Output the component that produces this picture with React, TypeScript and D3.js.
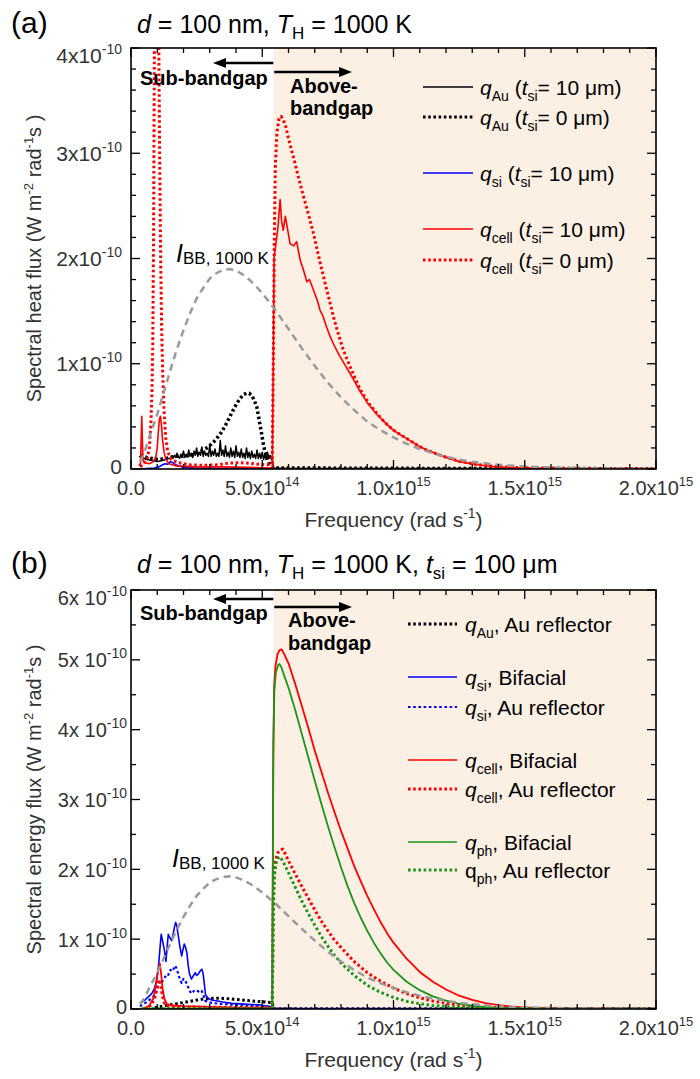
import React from 'react';
import * as d3 from 'd3';

type P = [number, number];

// ---------------- data (frequency in 1e14 rad/s, flux in 1e-10 units) ----------------
const bbCurve: P[] = [[0.35,0.07],[0.5,0.15],[0.75,0.34],[1.0,0.52],[1.25,0.73],[1.5,0.94],[1.75,1.14],[2.0,1.32],[2.25,1.48],[2.5,1.62],[2.75,1.72],[3.0,1.81],[3.25,1.86],[3.5,1.89],[3.75,1.9],[4.0,1.885],[4.25,1.85],[4.5,1.8],[4.75,1.74],[5.0,1.67],[5.25,1.59],[5.5,1.51],[5.75,1.42],[6.0,1.33],[6.5,1.15],[7.0,0.98],[7.5,0.82],[8.0,0.68],[8.5,0.56],[9.0,0.45],[9.5,0.37],[10,0.3],[10.5,0.24],[11,0.19],[11.5,0.15],[12,0.115],[12.5,0.09],[13,0.068],[14,0.04],[15,0.024],[16,0.014],[17,0.008],[18,0.005],[19,0.003],[20,0.002]];

// panel (a)
const aAuSolid: P[] = [[0.3,0.12],[0.4,0.11],[0.5,0.1],[0.6,0.09],[0.7,0.085],[0.8,0.08],[0.9,0.075],[1.0,0.07],[1.1,0.075],[1.2,0.08],[1.3,0.09],[1.4,0.1],[1.5,0.1],[1.55,0.12],[1.6,0.1],[1.65,0.13],[1.7,0.11],[1.75,0.15],[1.8,0.12],[1.85,0.1],[1.9,0.14],[1.95,0.12],[2.0,0.17],[2.05,0.11],[2.1,0.14],[2.15,0.12],[2.2,0.18],[2.25,0.12],[2.3,0.15],[2.35,0.11],[2.4,0.17],[2.45,0.13],[2.5,0.2],[2.55,0.12],[2.6,0.16],[2.65,0.13],[2.7,0.21],[2.75,0.12],[2.8,0.17],[2.85,0.13],[2.9,0.15],[2.95,0.12],[3.0,0.23],[3.05,0.12],[3.1,0.17],[3.15,0.13],[3.2,0.19],[3.25,0.12],[3.3,0.15],[3.35,0.12],[3.4,0.27],[3.45,0.13],[3.5,0.18],[3.55,0.12],[3.6,0.22],[3.65,0.12],[3.7,0.16],[3.75,0.11],[3.8,0.2],[3.85,0.12],[3.9,0.17],[3.95,0.11],[4.0,0.22],[4.05,0.12],[4.1,0.16],[4.15,0.11],[4.2,0.19],[4.25,0.11],[4.3,0.15],[4.35,0.1],[4.4,0.2],[4.45,0.11],[4.5,0.16],[4.55,0.1],[4.6,0.17],[4.65,0.11],[4.7,0.14],[4.75,0.1],[4.8,0.18],[4.85,0.1],[4.9,0.15],[4.95,0.1],[5.0,0.16],[5.05,0.09],[5.1,0.14],[5.15,0.09],[5.2,0.16],[5.25,0.1],[5.3,0.13],[5.35,0.09],[5.38,0.12],[5.42,0.01],[6,0.005],[20,0.004]];
const aAuDot: P[] = [[0.35,0.13],[0.6,0.11],[0.8,0.1],[1.04,0.09],[1.3,0.1],[1.68,0.12],[2.0,0.12],[2.31,0.13],[2.6,0.16],[2.95,0.21],[3.2,0.27],[3.45,0.35],[3.65,0.44],[3.83,0.53],[4.0,0.61],[4.15,0.67],[4.3,0.71],[4.41,0.72],[4.5,0.72],[4.6,0.7],[4.7,0.65],[4.79,0.59],[4.85,0.51],[4.91,0.43],[4.98,0.33],[5.04,0.24],[5.1,0.17],[5.17,0.12],[5.26,0.06],[5.36,0.02],[5.45,0.01],[8,0.008],[12,0.005],[20,0.003]];
const aSiSolid: P[] = [[0.3,0.0],[0.6,0.005],[0.9,0.01],[1.1,0.025],[1.2,0.04],[1.3,0.05],[1.4,0.045],[1.5,0.07],[1.6,0.06],[1.7,0.04],[1.8,0.03],[2.0,0.015],[2.5,0.008],[3.5,0.005],[5.4,0.003],[20,0.002]];
const aCellSolid: P[] = [[0.3,0.03],[0.36,0.05],[0.39,0.3],[0.41,0.5],[0.43,0.3],[0.46,0.08],[0.55,0.06],[0.7,0.05],[0.85,0.07],[0.95,0.12],[1.0,0.2],[1.04,0.35],[1.08,0.47],[1.12,0.5],[1.16,0.42],[1.2,0.28],[1.26,0.16],[1.33,0.09],[1.45,0.05],[1.7,0.03],[2.5,0.02],[3.5,0.02],[4.5,0.015],[5.38,0.01],[5.42,1.0],[5.45,2.0],[5.5,2.1],[5.6,2.3],[5.68,2.56],[5.74,2.35],[5.8,2.27],[5.88,2.4],[5.95,2.3],[6.06,2.14],[6.2,2.12],[6.31,2.16],[6.45,1.98],[6.57,1.89],[6.7,1.78],[6.8,1.8],[6.95,1.7],[7.1,1.6],[7.2,1.51],[7.3,1.46],[7.45,1.35],[7.6,1.25],[7.71,1.19],[7.85,1.12],[7.96,1.07],[8.15,0.99],[8.34,0.91],[8.5,0.84],[8.72,0.74],[9.0,0.63],[9.36,0.52],[9.68,0.44],[9.99,0.37],[10.3,0.32],[10.63,0.27],[10.95,0.22],[11.26,0.18],[11.9,0.12],[12.5,0.07],[13.2,0.04],[13.8,0.024],[14.5,0.014],[15.5,0.007],[17,0.003],[20,0.001]];
const aCellDot: P[] = [[0.35,0.02],[0.5,0.05],[0.62,0.1],[0.7,0.2],[0.76,0.45],[0.8,0.75],[0.83,1.2],[0.86,2.2],[0.88,3.4],[0.91,5.0],[0.96,6.0],[1.02,5.2],[1.06,4.0],[1.09,3.0],[1.13,2.0],[1.17,1.3],[1.21,0.9],[1.26,0.55],[1.32,0.3],[1.4,0.16],[1.55,0.09],[1.8,0.06],[2.2,0.04],[2.8,0.035],[3.3,0.04],[3.7,0.055],[4.1,0.06],[4.5,0.055],[4.9,0.045],[5.2,0.04],[5.38,0.05],[5.42,1.0],[5.46,2.2],[5.5,2.9],[5.56,3.2],[5.64,3.33],[5.72,3.35],[5.8,3.32],[5.9,3.25],[6.0,3.14],[6.18,2.97],[6.37,2.78],[6.57,2.59],[6.76,2.42],[6.95,2.24],[7.14,2.03],[7.33,1.83],[7.52,1.64],[7.71,1.45],[7.9,1.28],[8.09,1.13],[8.4,0.94],[8.72,0.76],[9.04,0.63],[9.36,0.53],[9.68,0.44],[9.99,0.37],[10.3,0.32],[10.63,0.27],[10.95,0.22],[11.26,0.18],[11.9,0.12],[12.5,0.075],[13.2,0.042],[13.8,0.026],[14.5,0.015],[15.5,0.008],[17,0.004],[20,0.002]];

// panel (b)
const bAuDot: P[] = [[0.9,0.02],[1.2,0.04],[1.5,0.06],[1.8,0.08],[2.1,0.1],[2.4,0.12],[2.7,0.14],[3.0,0.15],[3.3,0.155],[3.6,0.15],[3.9,0.14],[4.2,0.13],[4.5,0.12],[4.8,0.11],[5.1,0.1],[5.38,0.09],[5.42,0.005],[20,0.003]];
const bSiBif: P[] = [[0.34,0.08],[0.5,0.12],[0.65,0.17],[0.79,0.22],[0.9,0.3],[0.98,0.42],[1.05,0.62],[1.1,0.85],[1.15,1.07],[1.2,0.98],[1.27,0.85],[1.33,0.68],[1.38,0.9],[1.42,1.07],[1.48,1.02],[1.55,0.98],[1.61,1.08],[1.66,1.18],[1.7,1.24],[1.74,1.2],[1.8,1.05],[1.87,0.88],[1.93,0.76],[1.98,0.85],[2.03,0.93],[2.08,0.88],[2.13,0.8],[2.18,0.62],[2.23,0.5],[2.3,0.43],[2.38,0.48],[2.45,0.52],[2.5,0.48],[2.56,0.5],[2.63,0.54],[2.7,0.57],[2.75,0.5],[2.79,0.37],[2.84,0.2],[2.95,0.15],[3.07,0.13],[3.5,0.1],[3.83,0.08],[4.3,0.07],[4.85,0.06],[5.36,0.03],[5.42,0.005],[20,0.003]];
const bSiAu: P[] = [[0.34,0.04],[0.6,0.1],[0.8,0.16],[0.91,0.2],[1.0,0.3],[1.1,0.42],[1.2,0.4],[1.3,0.46],[1.36,0.5],[1.42,0.49],[1.5,0.56],[1.58,0.54],[1.68,0.62],[1.74,0.58],[1.8,0.5],[1.87,0.42],[1.93,0.37],[2.0,0.43],[2.06,0.42],[2.12,0.36],[2.18,0.31],[2.25,0.25],[2.31,0.22],[2.4,0.26],[2.5,0.27],[2.6,0.24],[2.69,0.26],[2.76,0.2],[2.82,0.12],[3.0,0.09],[3.5,0.07],[4.3,0.05],[5.36,0.03],[5.42,0.004],[20,0.003]];
const bCellBif: P[] = [[0.45,0.0],[0.7,0.05],[0.85,0.15],[0.95,0.35],[1.03,0.55],[1.1,0.65],[1.15,0.5],[1.2,0.3],[1.27,0.15],[1.37,0.07],[1.6,0.05],[2.0,0.04],[3.0,0.03],[4.0,0.02],[5.38,0.015],[5.42,3.5],[5.45,4.6],[5.5,4.9],[5.58,5.08],[5.66,5.14],[5.74,5.15],[5.85,5.07],[6.0,4.95],[6.25,4.66],[6.5,4.35],[6.75,4.03],[7.0,3.7],[7.25,3.4],[7.5,3.1],[7.75,2.82],[8.0,2.55],[8.25,2.3],[8.5,2.05],[8.75,1.83],[9.0,1.62],[9.25,1.43],[9.5,1.25],[9.75,1.09],[10.0,0.95],[10.5,0.72],[11.0,0.53],[11.5,0.39],[12.0,0.28],[12.5,0.19],[13.0,0.13],[13.5,0.085],[14.0,0.055],[14.5,0.035],[15.0,0.022],[16.0,0.01],[17.0,0.005],[20,0.002]];
const bCellAu: P[] = [[0.5,0.0],[0.75,0.05],[0.9,0.15],[1.0,0.3],[1.08,0.42],[1.13,0.35],[1.2,0.18],[1.28,0.08],[1.4,0.04],[2.0,0.03],[3.0,0.025],[4.0,0.02],[5.38,0.02],[5.42,1.5],[5.46,2.0],[5.52,2.15],[5.6,2.24],[5.7,2.28],[5.78,2.29],[5.88,2.22],[6.0,2.12],[6.25,1.94],[6.5,1.76],[6.75,1.59],[7.0,1.42],[7.25,1.26],[7.5,1.12],[7.75,0.99],[8.0,0.88],[8.5,0.68],[9.0,0.52],[9.5,0.4],[10.0,0.3],[10.5,0.22],[11.0,0.16],[11.5,0.115],[12.0,0.08],[12.5,0.055],[13.0,0.037],[14.0,0.016],[15.0,0.007],[16.0,0.003],[20,0.001]];
const bPhBif: P[] = [[0.4,0.005],[5.38,0.005],[5.42,3.8],[5.46,4.55],[5.52,4.82],[5.6,4.92],[5.65,4.94],[5.72,4.9],[5.85,4.76],[6.0,4.6],[6.25,4.29],[6.5,3.95],[6.75,3.61],[7.0,3.27],[7.25,2.94],[7.5,2.62],[7.75,2.32],[8.0,2.03],[8.25,1.76],[8.5,1.52],[8.75,1.31],[9.0,1.12],[9.25,0.95],[9.5,0.8],[9.75,0.67],[10.0,0.56],[10.5,0.39],[11.0,0.27],[11.5,0.18],[12.0,0.12],[12.5,0.075],[13.0,0.045],[13.5,0.028],[14.0,0.017],[15.0,0.007],[16.0,0.003],[20,0.001]];
const bPhAu: P[] = [[0.4,0.005],[5.38,0.005],[5.42,1.4],[5.46,1.9],[5.52,2.08],[5.6,2.16],[5.68,2.18],[5.78,2.12],[5.9,2.03],[6.0,1.95],[6.25,1.75],[6.5,1.55],[6.75,1.37],[7.0,1.2],[7.25,1.04],[7.5,0.9],[7.75,0.77],[8.0,0.66],[8.5,0.48],[9.0,0.34],[9.5,0.24],[10.0,0.165],[10.5,0.11],[11.0,0.075],[11.5,0.05],[12.0,0.033],[13.0,0.014],[14.0,0.006],[15.0,0.0025],[20,0.001]];

// ticks
const xTickValues = [0, 5, 10, 15, 20];
const xTickMantissa = ['0.0', '5.0x10', '1.0x10', '1.5x10', '2.0x10'];
const xTickExponent = ['', '14', '15', '15', '15'];
const yTicksA = [0, 1, 2, 3, 4];
const yTicksB = [0, 1, 2, 3, 4, 5, 6];
const bandgapFreq = 5.42;

// ---------------- rendering ----------------
const FONT = "'Liberation Sans', Arial, Helvetica, sans-serif";
const X0 = 131, X1 = 656;
const BLACK = '#000', BLUE = '#0000ff', RED = '#ff0000', GREEN = '#1a961a', GRAY = '#9a9a9a';

type Part = { t: string; it?: boolean; sub?: boolean; sup?: boolean };
type Sty = { color: string; width: number; dash?: string };

function Rich(props: { parts: Part[]; x?: number; y?: number; size: number; small: number; subShift?: number; supShift?: number; anchor?: string; transform?: string; weight?: string; fill?: string }) {
  const { parts, x, y, size, small, subShift = 6, supShift = 8, anchor = 'start', transform, weight, fill = '#000' } = props;
  let cur = 0;
  return (
    <text x={x} y={y} fontSize={size} textAnchor={anchor} transform={transform} fontWeight={weight} fill={fill} fontFamily={FONT} style={{ whiteSpace: 'pre' }}>
      {parts.map((p, i) => {
        const target = p.sub ? subShift : p.sup ? -supShift : 0;
        const dy = target - cur;
        cur = target;
        return (
          <tspan key={i} dy={dy} fontSize={p.sub || p.sup ? small : undefined} fontStyle={p.it ? 'italic' : undefined}>{p.t}</tspan>
        );
      })}
    </text>
  );
}

const solid = (c: string, w = 1.6): Sty => ({ color: c, width: w });
const dotted = (c: string, w = 3): Sty => ({ color: c, width: w, dash: '2.6 2.6' });
const grayDash: Sty = { color: GRAY, width: 2.5, dash: '7 5' };

type Cfg = {
  id: string; top: number; bottom: number; yMax: number; yTicks: number[]; yMinorStep: number;
  yMant: (v: number) => string; yFont: number; yLabelEnd: number;
  series: { data: P[]; sty: Sty }[];
  legend: { y: number; sty: Sty; parts: Part[] }[];
  legX1: number; legX2: number; legTx: number;
  title: Part[]; titleY: number; tag: string;
  yTitle: Part[];
  subTxtY: number; aboveY1: number; aboveY2: number; aboveX: number;
  arrowLY: number; arrowRY: number;
  bbLabelX: number; bbLabelY: number;
};

function Arrow({ x1, x2, y }: { x1: number; x2: number; y: number }) {
  const dir = x2 > x1 ? 1 : -1;
  const hl = 13, hw = 5;
  return (
    <g>
      <line x1={x1} y1={y} x2={x2 - dir * hl} y2={y} stroke="#000" strokeWidth={2.4} />
      <path d={`M${x2},${y} L${x2 - dir * hl},${y - hw} L${x2 - dir * hl},${y + hw} Z`} fill="#000" />
    </g>
  );
}

function Panel({ cfg }: { cfg: Cfg }) {
  const x = d3.scaleLinear().domain([0, 20]).range([X0, X1]);
  const y = d3.scaleLinear().domain([0, cfg.yMax]).range([cfg.bottom, cfg.top]);
  const line = d3.line<P>().x((d) => x(d[0])).y((d) => y(d[1]));
  const xMinor = d3.range(0, 21, 1).filter((v) => v % 5 !== 0);
  const yMinor = d3.range(0, cfg.yMax + 1e-9, cfg.yMinorStep).filter((v) => Math.abs(v - Math.round(v)) > 1e-6);
  const T = cfg.top, B = cfg.bottom;
  const maj = 9, mnr = 5;
  const gx = x(bandgapFreq);
  return (
    <g>
      <defs>
        <clipPath id={`clip-${cfg.id}`}>
          <rect x={X0} y={T} width={X1 - X0} height={B - T} />
        </clipPath>
      </defs>
      <rect x={gx} y={T} width={X1 - gx} height={B - T} fill="#fcefe3" />
      <g clipPath={`url(#clip-${cfg.id})`}>
        {cfg.series.map((s, i) => (
          <path key={i} d={line(s.data) || ''} fill="none" stroke={s.sty.color} strokeWidth={s.sty.width} strokeDasharray={s.sty.dash} strokeLinejoin="round" />
        ))}
        <path d={line(bbCurve) || ''} fill="none" stroke={grayDash.color} strokeWidth={grayDash.width} strokeDasharray={grayDash.dash} />
      </g>
      {/* ticks */}
      <g stroke="#000" strokeWidth={1.3}>
        {xTickValues.map((v) => (
          <g key={`xm${v}`}>
            <line x1={x(v)} x2={x(v)} y1={B} y2={B - maj} />
            <line x1={x(v)} x2={x(v)} y1={T} y2={T + maj} />
          </g>
        ))}
        {xMinor.map((v) => (
          <g key={`xn${v}`}>
            <line x1={x(v)} x2={x(v)} y1={B} y2={B - mnr} />
            <line x1={x(v)} x2={x(v)} y1={T} y2={T + mnr} />
          </g>
        ))}
        {cfg.yTicks.map((v) => (
          <g key={`ym${v}`}>
            <line x1={X0} x2={X0 + maj} y1={y(v)} y2={y(v)} />
            <line x1={X1} x2={X1 - maj} y1={y(v)} y2={y(v)} />
          </g>
        ))}
        {yMinor.map((v) => (
          <g key={`yn${v}`}>
            <line x1={X0} x2={X0 + mnr} y1={y(v)} y2={y(v)} />
            <line x1={X1} x2={X1 - mnr} y1={y(v)} y2={y(v)} />
          </g>
        ))}
      </g>
      <rect x={X0} y={T} width={X1 - X0} height={B - T} fill="none" stroke="#000" strokeWidth={1.6} />
      {/* x tick labels */}
      {xTickValues.map((v, i) => (
        <Rich key={`xl${v}`} x={x(v)} y={B + 26} size={20} small={13} supShift={9} anchor="middle" fill="#333"
          parts={xTickExponent[i] ? [{ t: xTickMantissa[i] }, { t: xTickExponent[i], sup: true }] : [{ t: xTickMantissa[i] }]} />
      ))}
      {/* y tick labels */}
      {cfg.yTicks.map((v) => (
        <Rich key={`yl${v}`} x={cfg.yLabelEnd} y={v === cfg.yMax ? T + 14.5 : v === 0 ? y(v) + 5 : y(v) + 7.5} size={cfg.yFont} small={14} supShift={9} anchor="end" fill="#333"
          parts={v === 0 ? [{ t: '0' }] : [{ t: cfg.yMant(v) }, { t: '-10', sup: true }]} />
      ))}
      {/* axis titles */}
      <Rich x={(X0 + X1) / 2} y={B + 58} size={21} small={14} supShift={9} anchor="middle" fill="#333"
        parts={[{ t: 'Frequency (rad s' }, { t: '-1', sup: true }, { t: ')' }]} />
      <Rich transform={`translate(41,${(T + B) / 2}) rotate(-90)`} size={20} small={13} supShift={8} anchor="middle" fill="#333" parts={cfg.yTitle} />
      {/* panel tag and title */}
      <text x={11} y={cfg.titleY} fontSize={30} fontFamily={FONT} fill="#000">{cfg.tag}</text>
      <Rich x={137} y={cfg.titleY} size={25} small={17} subShift={6} parts={cfg.title} />
      {/* bandgap annotation */}
      <text x={140} y={cfg.subTxtY} fontSize={20} fontWeight="bold" fontFamily={FONT}>Sub-bandgap</text>
      <text x={cfg.aboveX} y={cfg.aboveY1} fontSize={20} fontWeight="bold" fontFamily={FONT}>Above-</text>
      <text x={cfg.aboveX} y={cfg.aboveY2} fontSize={20} fontWeight="bold" fontFamily={FONT}>bandgap</text>
      <Arrow x1={gx} x2={213} y={cfg.arrowLY} />
      <Arrow x1={gx + 1} x2={352} y={cfg.arrowRY} />
      {/* I_BB label */}
      <Rich x={cfg.bbLabelX} y={cfg.bbLabelY} size={25} small={17} subShift={2}
        parts={[{ t: 'I', it: true }, { t: 'BB, 1000 K', sub: true }]} />
      {/* legend */}
      {cfg.legend.map((r, i) => (
        <g key={`lg${i}`}>
          <line x1={cfg.legX1} x2={cfg.legX2} y1={r.y} y2={r.y} stroke={r.sty.color} strokeWidth={r.sty.dash ? r.sty.width : 1.6} strokeDasharray={r.sty.dash} />
          <Rich x={cfg.legTx} y={r.y + 8} size={21} small={14} subShift={6} parts={r.parts} />
        </g>
      ))}
    </g>
  );
}

const q = (sub: string, italic = true): Part[] => [{ t: 'q', it: italic }, { t: sub, sub: true }];
const tsi = (val: string): Part[] => [{ t: ' (' }, { t: 't', it: true }, { t: 'si', sub: true }, { t: `= ${val} μm)` }];

const panelA: Cfg = {
  id: 'a', top: 48, bottom: 469, yMax: 4, yTicks: yTicksA, yMinorStep: 0.2,
  yMant: (v) => `${v}x10`, yFont: 21, yLabelEnd: 122,
  series: [
    { data: aSiSolid, sty: solid(BLUE) },
    { data: aAuSolid, sty: solid(BLACK, 1.5) },
    { data: aAuDot, sty: dotted(BLACK, 3.5) },
    { data: aCellSolid, sty: solid(RED, 1.6) },
    { data: aCellDot, sty: dotted(RED, 3) },
  ],
  legend: [
    { y: 87, sty: solid(BLACK), parts: [...q('Au'), ...tsi('10')] },
    { y: 117, sty: dotted(BLACK, 3), parts: [...q('Au'), ...tsi('0')] },
    { y: 173, sty: solid(BLUE), parts: [...q('si'), ...tsi('10')] },
    { y: 229, sty: solid(RED), parts: [...q('cell'), ...tsi('10')] },
    { y: 260, sty: dotted(RED, 3), parts: [...q('cell'), ...tsi('0')] },
  ],
  legX1: 423, legX2: 473, legTx: 480,
  title: [{ t: 'd', it: true }, { t: ' = 100 nm, ' }, { t: 'T', it: true }, { t: 'H', sub: true }, { t: ' = 1000 K' }],
  titleY: 33, tag: '(a)',
  yTitle: [{ t: 'Spectral heat flux (W m' }, { t: '-2', sup: true }, { t: ' rad' }, { t: '-1', sup: true }, { t: 's )' }],
  subTxtY: 85, aboveY1: 93, aboveY2: 115, aboveX: 290,
  arrowLY: 63, arrowRY: 72,
  bbLabelX: 176, bbLabelY: 262,
};

const panelB: Cfg = {
  id: 'b', top: 590, bottom: 1009, yMax: 6, yTicks: yTicksB, yMinorStep: 0.5,
  yMant: (v) => `${v}x 10`, yFont: 20, yLabelEnd: 127,
  series: [
    { data: bAuDot, sty: dotted(BLACK, 3) },
    { data: bSiAu, sty: dotted(BLUE, 2.2) },
    { data: bSiBif, sty: solid(BLUE, 1.6) },
    { data: bCellAu, sty: dotted(RED, 3) },
    { data: bCellBif, sty: solid(RED, 1.8) },
    { data: bPhAu, sty: dotted(GREEN, 3) },
    { data: bPhBif, sty: solid(GREEN, 1.8) },
  ],
  legend: [
    { y: 624, sty: dotted(BLACK, 3), parts: [...q('Au'), { t: ', Au reflector' }] },
    { y: 677, sty: solid(BLUE), parts: [...q('si'), { t: ', Bifacial' }] },
    { y: 707, sty: dotted(BLUE, 2), parts: [...q('si'), { t: ', Au reflector' }] },
    { y: 760, sty: solid(RED), parts: [...q('cell'), { t: ', Bifacial' }] },
    { y: 789, sty: dotted(RED, 3), parts: [...q('cell'), { t: ', Au reflector' }] },
    { y: 842, sty: solid(GREEN), parts: [...q('ph'), { t: ', Bifacial' }] },
    { y: 870, sty: dotted(GREEN, 3), parts: [...q('ph', false), { t: ', Au reflector' }] },
  ],
  legX1: 408, legX2: 457, legTx: 465,
  title: [{ t: 'd', it: true }, { t: ' = 100 nm, ' }, { t: 'T', it: true }, { t: 'H', sub: true }, { t: ' = 1000 K, ' }, { t: 't', it: true }, { t: 'si', sub: true }, { t: ' = 100 μm' }],
  titleY: 573, tag: '(b)',
  yTitle: [{ t: 'Spectral energy flux (W m' }, { t: '-2', sup: true }, { t: ' rad' }, { t: '-1', sup: true }, { t: 's )' }],
  subTxtY: 620, aboveY1: 627, aboveY2: 650, aboveX: 288,
  arrowLY: 599, arrowRY: 607,
  bbLabelX: 172, bbLabelY: 867,
};

export default function App() {
  return (
    <svg width={700} height={1079} viewBox="0 0 700 1079" style={{ position: 'absolute', left: 0, top: 0, background: '#fff' }} fontFamily={FONT}>
      <rect width={700} height={1079} fill="#fff" />
      <Panel cfg={panelA} />
      <Panel cfg={panelB} />
    </svg>
  );
}
